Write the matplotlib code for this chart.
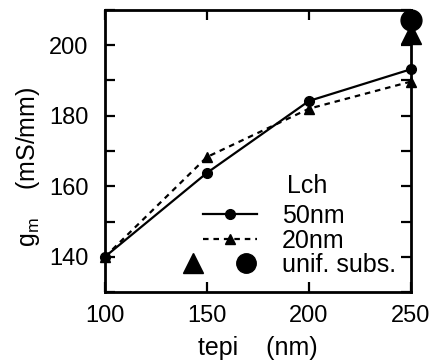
import matplotlib
matplotlib.use("Agg")
import matplotlib.pyplot as plt
from matplotlib.ticker import MultipleLocator
from matplotlib.lines import Line2D

plt.rcParams['font.family'] = ['Liberation Sans', 'DejaVu Sans']
plt.rcParams['font.size'] = 17
plt.rcParams['mathtext.fontset'] = 'custom'
plt.rcParams['mathtext.rm'] = 'Liberation Sans'
plt.rcParams['mathtext.it'] = 'Liberation Sans'

tepi = [100, 150, 200, 250]
gm_50nm = [140, 163.8, 184.2, 193.2]
gm_20nm = [140, 168.3, 182.0, 189.7]
unif_x = [250]
unif_circle = [207.2]
unif_triangle = [203.2]


class UnifHandler:
    # big triangle + big circle side by side, like the original key
    def legend_artist(self, legend, orig, fontsize, handlebox):
        x0, y0 = -handlebox.xdescent, -handlebox.ydescent
        w, h = handlebox.width, handlebox.height
        yc = y0 + h / 2
        t = Line2D([x0 - 0.18 * w], [yc], marker='^', ms=15, color='k', ls='')
        c = Line2D([x0 + 0.80 * w], [yc], marker='o', ms=14, color='k', ls='')
        handlebox.add_artist(t)
        handlebox.add_artist(c)
        return t


fig = plt.figure(figsize=(4.35, 3.63), dpi=100)
ax = fig.add_axes([105 / 435, 71 / 363, 306 / 435, 282 / 363])

l50, = ax.plot(tepi, gm_50nm, '-o', color='k', lw=1.6, ms=7, clip_on=False, zorder=5)
l20, = ax.plot(tepi, gm_20nm, '--^', color='k', lw=1.6, ms=7, dashes=(2.5, 2.2),
               clip_on=False, zorder=5)
tri, = ax.plot(unif_x, unif_triangle, '^', color='k', ms=15, clip_on=False, zorder=6)
circ, = ax.plot(unif_x, unif_circle, 'o', color='k', ms=15, clip_on=False, zorder=6)

ax.set_xlim(100, 250)
ax.set_ylim(130, 210)
ax.set_xticks(tepi)
ax.yaxis.set_major_locator(MultipleLocator(20))
ax.yaxis.set_minor_locator(MultipleLocator(10))
ax.set_yticks([140, 160, 180, 200])
ax.tick_params(which='both', direction='in', top=True, right=True, length=7, width=1.6)
ax.tick_params(axis='y', pad=12)
ax.tick_params(axis='x', pad=9)
for s in ax.spines.values():
    s.set_linewidth(2)

ax.set_xlabel('tepi    (nm)', labelpad=7, fontsize=18)
ax.set_ylabel(r'g$_\mathregular{m}$    (mS/mm)', fontsize=18)
ax.yaxis.set_label_coords(-0.206, 0.445)

ax.legend([l50, l20, 'unif'], ['50nm', '20nm', 'unif. subs.'],
          handler_map={str: UnifHandler()}, fontsize=18,
          frameon=False, loc='lower right',
          bbox_to_anchor=(1.0, 0.0), handlelength=2.16,
          handletextpad=1.0, labelspacing=0.02, borderaxespad=0.2)
ax.text(0.595, 0.351, 'Lch', transform=ax.transAxes, ha='left', va='baseline',
        fontsize=18)

fig.savefig('out.png', dpi=100)
